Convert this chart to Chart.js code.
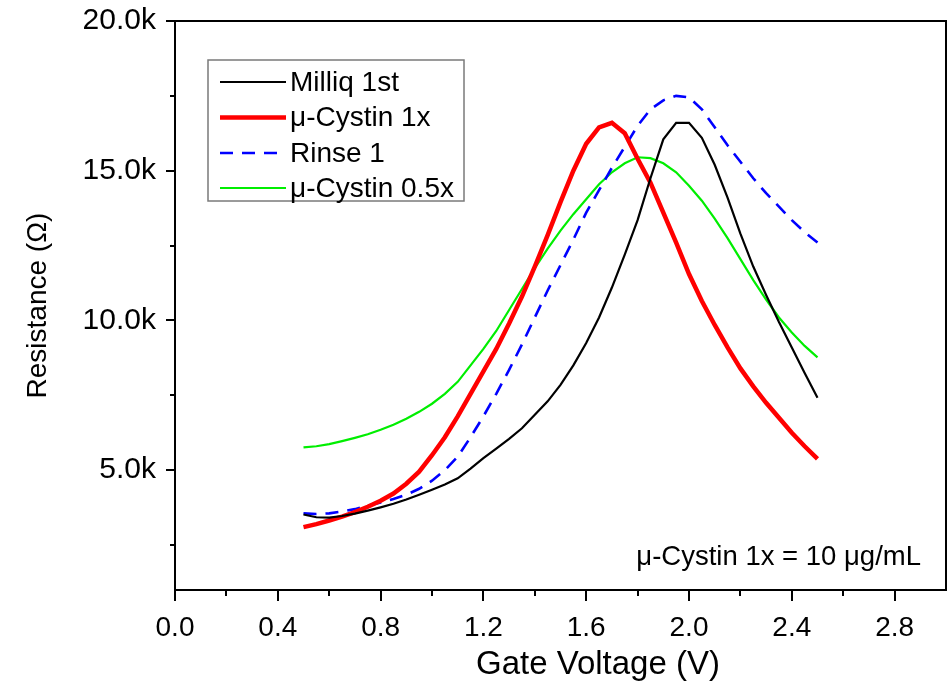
<!DOCTYPE html>
<html>
<head>
<meta charset="utf-8">
<script src="https://cdn.jsdelivr.net/npm/chart.js@4/dist/chart.umd.min.js"></script>
<style>
  html, body { margin: 0; padding: 0; background: #fff; }
  #wrap { width: 948px; height: 689px; }
</style>
</head>
<body>
<div id="wrap"><canvas id="c" width="948" height="689"></canvas></div>
<script>
// Gate voltage (V)
const voltage = [0.50,0.55,0.60,0.65,0.70,0.75,0.80,0.85,0.90,0.95,
                 1.00,1.05,1.10,1.15,1.20,1.25,1.30,1.35,1.40,1.45,
                 1.50,1.55,1.60,1.65,1.70,1.75,1.80,1.85,1.90,1.95,
                 2.00,2.05,2.10,2.15,2.20,2.25,2.30,2.35,2.40,2.45,2.50];
// Resistance (kOhm)
const milliq1st = [3.52,3.43,3.42,3.47,3.55,3.65,3.76,3.88,4.02,4.18,
                   4.35,4.52,4.73,5.05,5.40,5.72,6.05,6.40,6.85,7.30,
                   7.85,8.50,9.25,10.10,11.10,12.20,13.35,14.75,16.05,16.60,
                   16.60,16.10,15.20,14.10,12.90,11.80,10.85,9.95,9.10,8.25,7.42];
const cystin1x = [3.10,3.20,3.32,3.45,3.60,3.78,3.98,4.22,4.55,4.95,
                  5.50,6.10,6.80,7.55,8.30,9.05,9.90,10.80,11.80,12.85,
                  13.95,15.00,15.90,16.45,16.60,16.25,15.40,14.60,13.60,12.60,
                  11.55,10.65,9.85,9.10,8.40,7.80,7.25,6.75,6.25,5.80,5.38];
const rinse1 = [3.56,3.54,3.56,3.62,3.70,3.81,3.92,4.04,4.18,4.38,
                4.65,5.00,5.45,6.10,6.80,7.55,8.35,9.20,10.10,11.00,
                11.85,12.70,13.60,14.35,15.10,15.80,16.50,17.05,17.35,17.50,
                17.45,17.05,16.45,15.85,15.30,14.75,14.25,13.80,13.35,12.95,12.60];
const cystin05x = [5.76,5.80,5.87,5.97,6.08,6.20,6.35,6.52,6.72,6.95,
                   7.22,7.55,7.95,8.50,9.05,9.65,10.35,11.05,11.75,12.40,
                   13.00,13.55,14.05,14.55,14.95,15.25,15.45,15.42,15.25,14.95,
                   14.50,14.00,13.40,12.75,12.05,11.35,10.70,10.10,9.60,9.15,8.77];

const seriesNames = ['Milliq 1st', '\u03bc-Cystin 1x', 'Rinse 1', '\u03bc-Cystin 0.5x'];
const xMajorTicks = [0.0,0.4,0.8,1.2,1.6,2.0,2.4,2.8];
const xMinorTicks = [0.2,0.6,1.0,1.4,1.8,2.2,2.6,3.0];
const yMajorTicks = [5,10,15,20];
const yMinorTicks = [2.5,7.5,12.5,17.5];
const xTitle = 'Gate Voltage (V)';
const yTitle = 'Resistance (\u03a9)';
const noteText = '\u03bc-Cystin 1x = 10 \u03bcg/mL';

const SANS = "'Liberation Sans', Arial, Helvetica, sans-serif";

function pts(arr) { return voltage.map((v, i) => ({ x: v, y: arr[i] })); }

const styles = [
  { color: '#000000', width: 2.2, dash: [] },
  { color: '#ff0000', width: 4.5, dash: [] },
  { color: '#0000ff', width: 2.6, dash: [13, 9] },
  { color: '#00ee00', width: 2.2, dash: [] }
];
const seriesData = [milliq1st, cystin1x, rinse1, cystin05x];

const datasets = seriesData.map((arr, i) => ({
  label: seriesNames[i],
  data: pts(arr),
  borderColor: styles[i].color,
  backgroundColor: styles[i].color,
  borderWidth: styles[i].width,
  borderDash: styles[i].dash,
  pointRadius: 0,
  tension: 0,
  fill: false
}));

const isMajor = (list, v) => list.some(t => Math.abs(t - v) < 1e-6);

const decorPlugin = {
  id: 'decor',
  afterDraw(chart) {
    const ctx = chart.ctx;
    const a = chart.chartArea;
    const xs = chart.scales.x, ys = chart.scales.y;
    ctx.save();
    ctx.strokeStyle = '#000';
    ctx.lineWidth = 2;
    // frame top / right
    ctx.beginPath();
    ctx.moveTo(a.left - 1, a.top);
    ctx.lineTo(a.right, a.top);
    ctx.lineTo(a.right, a.bottom + 1);
    ctx.stroke();
    // minor ticks
    ctx.beginPath();
    xMinorTicks.forEach(v => {
      const px = Math.round(xs.getPixelForValue(v));
      if (px < a.right - 1) { ctx.moveTo(px, a.bottom); ctx.lineTo(px, a.bottom + 6); }
    });
    yMinorTicks.forEach(v => {
      const py = Math.round(ys.getPixelForValue(v));
      ctx.moveTo(a.left, py); ctx.lineTo(a.left - 5, py);
    });
    ctx.stroke();

    // x axis title
    ctx.fillStyle = '#000';
    ctx.font = '33px ' + SANS;
    ctx.textAlign = 'center';
    ctx.textBaseline = 'middle';
    ctx.fillText(xTitle, 598, 665);

    // legend box
    const bx = 208, by = 60, bw = 256, bh = 141;
    ctx.fillStyle = '#fff';
    ctx.fillRect(bx, by, bw, bh);
    ctx.strokeStyle = '#7a7a7a';
    ctx.lineWidth = 1.5;
    ctx.strokeRect(bx, by, bw, bh);
    const rows = [82, 117.5, 153, 188];
    ctx.font = '28px ' + SANS;
    ctx.textBaseline = 'middle';
    ctx.textAlign = 'left';
    chart.data.datasets.forEach((ds, i) => {
      const y = rows[i];
      ctx.strokeStyle = ds.borderColor;
      ctx.lineWidth = ds.borderWidth;
      ctx.setLineDash(ds.borderDash || []);
      ctx.beginPath();
      ctx.moveTo(220, y);
      ctx.lineTo(286, y);
      ctx.stroke();
      ctx.setLineDash([]);
      ctx.fillStyle = '#000';
      ctx.fillText(ds.label, 290, y + 1);
    });

    // note
    ctx.font = '27.5px ' + SANS;
    ctx.textAlign = 'right';
    ctx.fillStyle = '#000';
    ctx.fillText(noteText, 921, 557);
    ctx.restore();
  }
};

new Chart(document.getElementById('c'), {
  type: 'line',
  data: { datasets },
  options: {
    responsive: false,
    animation: false,
    devicePixelRatio: 1,
    layout: { padding: { top: 21, right: 2, left: 0, bottom: 0 } },
    plugins: { legend: { display: false }, tooltip: { enabled: false } },
    scales: {
      x: {
        type: 'linear',
        min: 0, max: 3.0,
        afterFit(s) { s.height = 99; s.paddingLeft = 0; s.paddingRight = 0; },
        afterBuildTicks(s) {
          s.ticks = xMajorTicks.concat(xMinorTicks).sort((p, q) => p - q).map(v => ({ value: v }));
        },
        ticks: {
          autoSkip: false, maxRotation: 0, minRotation: 0,
          padding: 10,
          color: '#000',
          font: { family: SANS, size: 28 },
          callback: v => isMajor(xMajorTicks, v) ? v.toFixed(1) : ''
        },
        grid: {
          drawOnChartArea: false, drawTicks: true, tickLength: 11, lineWidth: 2,
          color: c => (c.tick && isMajor(xMajorTicks, c.tick.value)) ? '#000' : 'rgba(0,0,0,0)'
        },
        border: { display: true, color: '#000', width: 2 },
        title: { display: false, text: xTitle }
      },
      y: {
        type: 'linear',
        min: 1, max: 20,
        afterFit(s) { s.width = 175; s.paddingTop = 0; s.paddingBottom = 0; },
        afterBuildTicks(s) {
          s.ticks = yMinorTicks.concat(yMajorTicks).sort((p, q) => p - q).map(v => ({ value: v }));
        },
        ticks: {
          autoSkip: false,
          padding: 10,
          color: '#000',
          font: { family: SANS, size: 30 },
          callback: v => isMajor(yMajorTicks, v) ? v.toFixed(1) + 'k' : ''
        },
        grid: {
          drawOnChartArea: false, drawTicks: true, tickLength: 9, lineWidth: 2,
          color: c => (c.tick && isMajor(yMajorTicks, c.tick.value)) ? '#000' : 'rgba(0,0,0,0)'
        },
        border: { display: true, color: '#000', width: 2 },
        title: {
          display: true, text: yTitle, color: '#000',
          font: { family: SANS, size: 28 },
          padding: { top: 21, bottom: 0 }
        }
      }
    }
  },
  plugins: [decorPlugin]
});
</script>
</body>
</html>
